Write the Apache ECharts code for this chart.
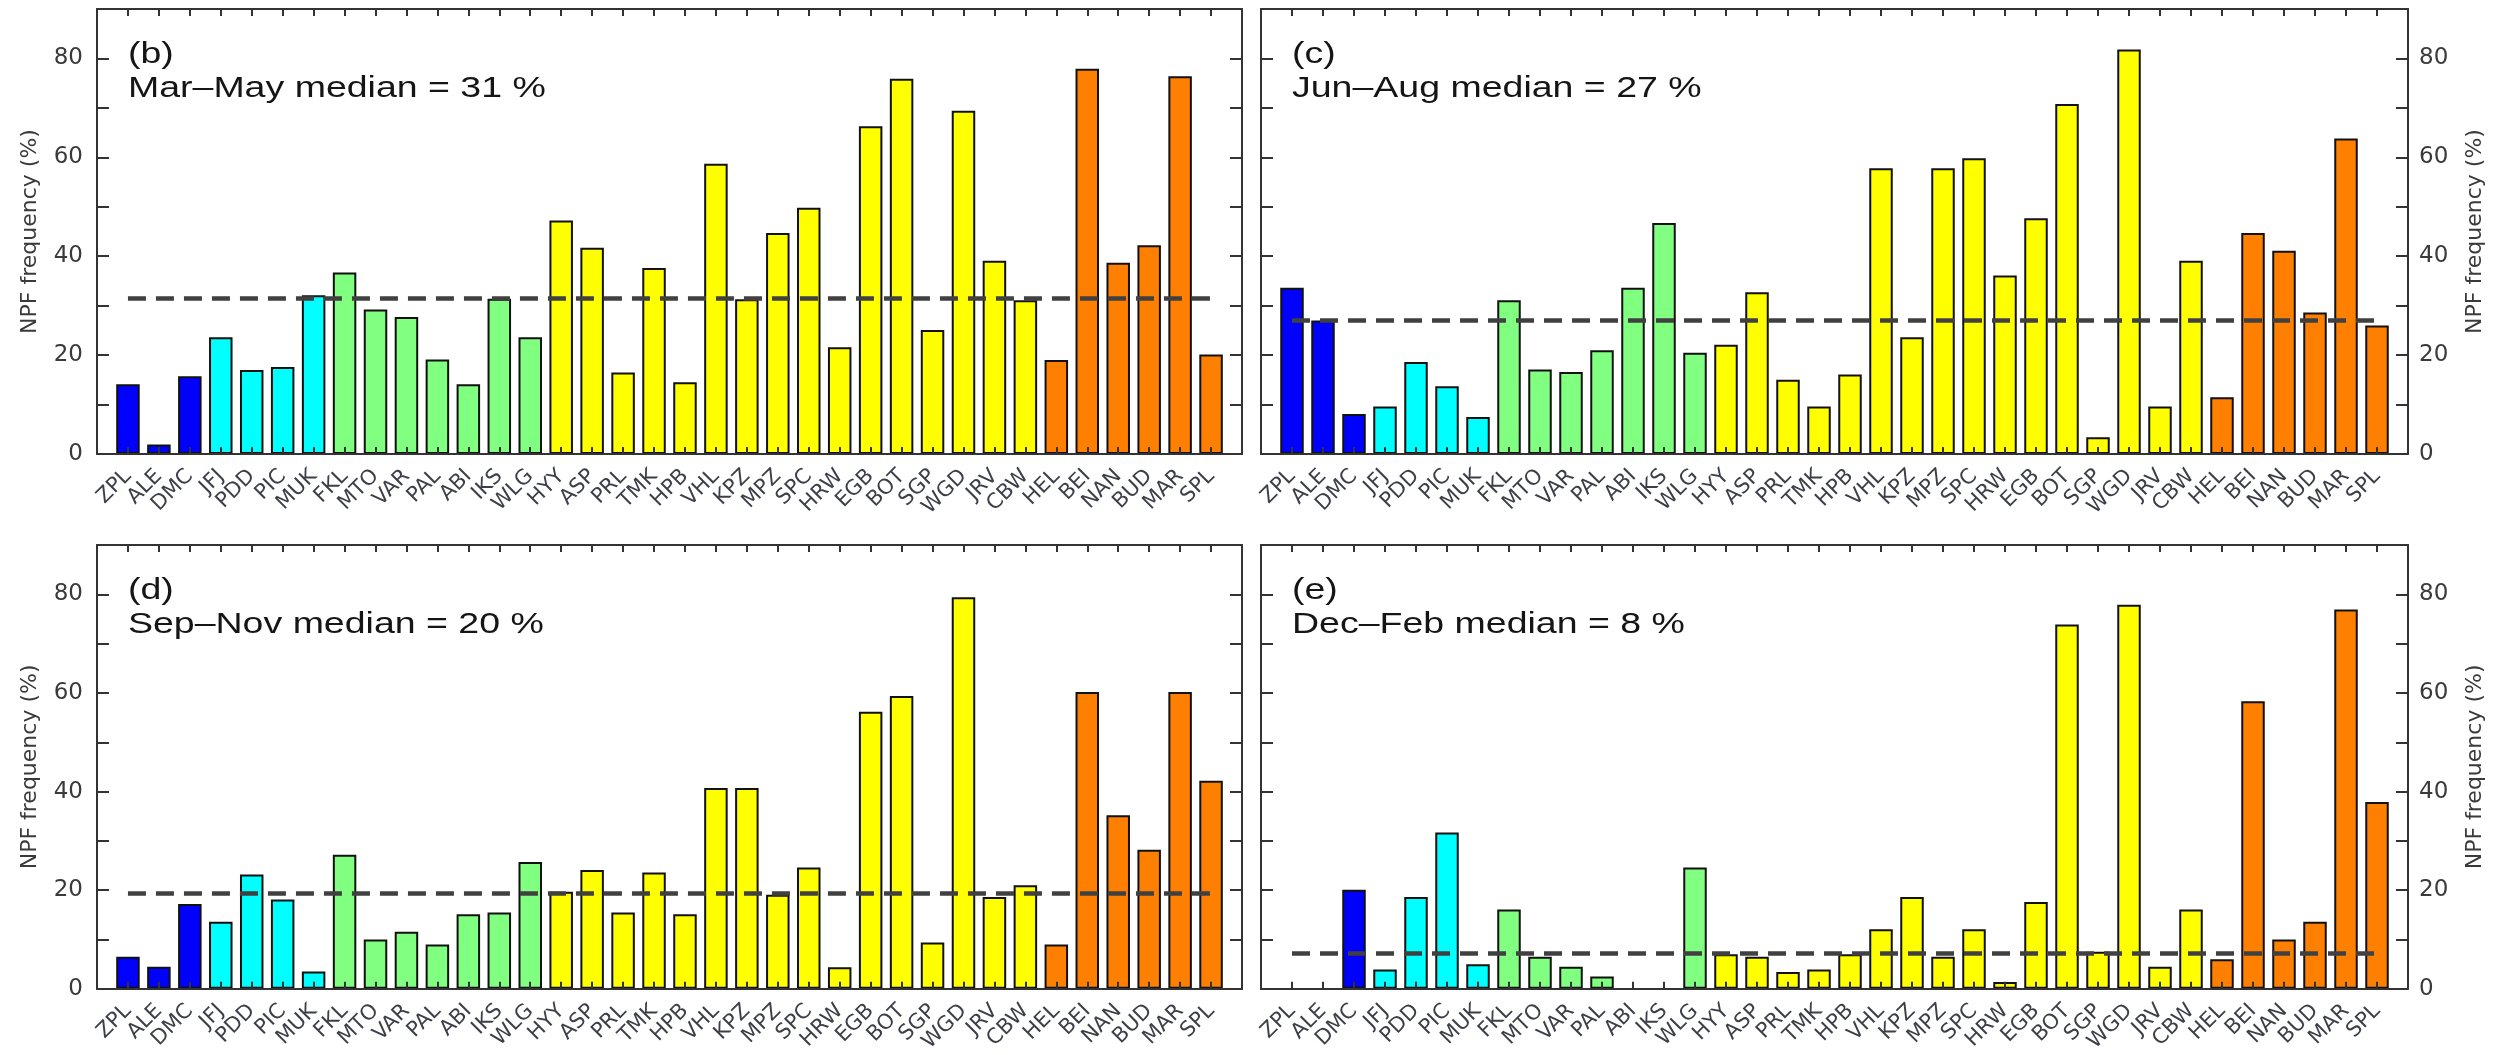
<!DOCTYPE html>
<html>
<head>
<meta charset="utf-8">
<script src="https://cdn.jsdelivr.net/npm/echarts@6/dist/echarts.min.js"></script>
<style>
html,body{margin:0;padding:0;background:#fff;}
#chart{width:2506px;height:1055px;}
</style>
</head>
<body>
<div id="chart"></div>
<script>
// ---------------- data ----------------
const sites = ['ZPL','ALE','DMC','JFJ','PDD','PIC','MUK','FKL','MTO','VAR','PAL','ABI','IKS','WLG',
  'HYY','ASP','PRL','TMK','HPB','VHL','KPZ','MPZ','SPC','HRW','EGB','BOT','SGP','WGD','JRV','CBW',
  'HEL','BEI','NAN','BUD','MAR','SPL'];
// site group (environment class) for each site
const siteGroup = [0,0,0,1,1,1,1,2,2,2,2,2,2,2,
  3,3,3,3,3,3,3,3,3,3,3,3,3,3,3,3,
  4,4,4,4,4,4];

const marMay = [14.1,1.9,15.7,23.6,17.0,17.6,32.1,36.7,29.2,27.7,19.1,14.1,31.4,23.6,
  47.2,41.7,16.5,37.6,14.5,58.7,31.3,44.7,49.8,21.6,66.3,75.9,25.1,69.4,39.1,31.1,
  19.0,77.9,38.7,42.2,76.4,20.1];
const junAug = [33.6,27.0,8.1,9.6,18.6,13.7,7.5,31.1,17.1,16.6,21.0,33.6,46.7,20.5,
  22.1,32.7,15.0,9.6,16.1,57.8,23.6,57.8,59.8,36.1,47.7,70.8,3.4,81.8,9.6,39.1,
  11.5,44.7,41.1,28.6,63.8,26.0];
const sepNov = [6.5,4.5,17.2,13.6,23.2,18.1,3.5,27.2,10.0,11.6,9.0,15.1,15.5,25.7,
  19.7,24.1,15.5,23.6,15.1,40.7,40.7,19.1,24.6,4.4,56.2,59.4,9.4,79.4,18.6,21.0,
  9.0,60.2,35.2,28.2,60.2,42.2];
const decFeb = [null,null,20.1,3.9,18.6,31.7,5.0,16.1,6.5,4.5,2.5,null,null,24.6,
  7.0,6.5,3.4,3.9,7.0,12.1,18.6,6.5,12.1,1.4,17.6,73.9,7.5,77.9,4.5,16.1,
  6.0,58.3,10.0,13.6,76.9,37.9];

const panelLetters = ['(b)','(c)','(d)','(e)'];
const seasonNames = ['Mar\u2013May','Jun\u2013Aug','Sep\u2013Nov','Dec\u2013Feb'];
const medianLabels = [31, 27, 20, 8];
const medianLines = [31.4, 27.0, 19.4, 7.3];
const yTickLabels = [0, 20, 40, 60, 80];
const yAxisTitle = 'NPF frequency (%)';

// ---------------- styles / layout ----------------
const seasons = [marMay, junAug, sepNov, decFeb];
const groupColors = ['#0000ff', '#00ffff', '#80ff80', '#ffff00', '#ff8000'];
const grids = [
  {left: 97, top: 9, width: 1145, height: 445},
  {left: 1261, top: 9, width: 1147, height: 445},
  {left: 97, top: 545, width: 1145, height: 445},
  {left: 1261, top: 545, width: 1147, height: 445}
];
const labelSide = ['left', 'right', 'left', 'right'];
const axisCats = [''].concat(sites, ['']);
const axisColor = '#333';
const labelColor = '#3a3a3a';
const FONT = '"DejaVu Sans", sans-serif';

const xAxes = [], yAxes = [], series = [], graphics = [];
grids.forEach((g, i) => {
  const tickInterval = (idx) => idx > 0 && idx < axisCats.length - 1;
  xAxes.push({
    type: 'category', gridIndex: i, data: axisCats, boundaryGap: false, position: 'bottom', z: 3,
    axisLine: {onZero: false, lineStyle: {color: axisColor, width: 2}},
    axisTick: {inside: true, length: 7, interval: tickInterval, lineStyle: {color: axisColor, width: 2}},
    axisLabel: {interval: 0, rotate: 45, margin: 19, fontFamily: FONT, fontSize: 21, color: '#3d3f48'},
    splitLine: {show: false}
  });
  xAxes.push({
    type: 'category', gridIndex: i, data: axisCats, boundaryGap: false, position: 'top', z: 3,
    axisLine: {onZero: false, lineStyle: {color: axisColor, width: 2}},
    axisTick: {inside: true, length: 7, interval: tickInterval, lineStyle: {color: axisColor, width: 2}},
    axisLabel: {show: false},
    splitLine: {show: false}
  });
  ['left', 'right'].forEach(pos => {
    const withLabels = pos === labelSide[i];
    yAxes.push({
      type: 'value', gridIndex: i, position: pos, min: 0, max: 90, interval: 10, z: 3,
      axisLine: {show: true, onZero: false, lineStyle: {color: axisColor, width: 2}},
      axisTick: {show: true, inside: true, length: 12, lineStyle: {color: axisColor, width: 2}},
      axisLabel: {
        show: withLabels, margin: pos === 'left' ? 14 : 11, fontFamily: FONT, fontSize: 23, color: labelColor,
        formatter: v => (yTickLabels.indexOf(v) >= 0 ? String(v) : '')
      },
      splitLine: {show: false},
      name: withLabels ? yAxisTitle : '',
      nameLocation: 'middle', nameRotate: 90, nameGap: 56,
      nameTextStyle: {fontFamily: FONT, fontSize: 22, color: labelColor}
    });
  });
  const m = medianLines[i];
  series.push({
    type: 'bar', xAxisIndex: 2 * i, yAxisIndex: 2 * i,
    barWidth: 23.5,
    data: [null].concat(seasons[i].map((v, k) => ({
      value: v,
      itemStyle: {color: groupColors[siteGroup[k]]}
    })), [null]),
    itemStyle: {borderColor: '#111', borderWidth: 2},
    markLine: {
      silent: true, symbol: ['none', 'none'], label: {show: false}, z: 5,
      lineStyle: {color: '#404040', width: 4.5, type: [18, 10]},
      data: [[{coord: [sites[0], m]}, {coord: [sites[sites.length - 1], m]}]]
    }
  });
  const x0 = g.left + g.width / 37;
  graphics.push({
    type: 'text', x: x0, y: g.top + 46, scaleX: 1.25,
    style: {text: panelLetters[i], fontFamily: '"Liberation Sans", Arial, sans-serif', fontSize: 30,
      fill: '#151515', verticalAlign: 'middle', align: 'left'}
  });
  graphics.push({
    type: 'text', x: x0, y: g.top + 80, scaleX: 1.25,
    style: {text: seasonNames[i] + ' median = ' + medianLabels[i] + ' %',
      fontFamily: '"Liberation Sans", Arial, sans-serif', fontSize: 30,
      fill: '#151515', verticalAlign: 'middle', align: 'left'}
  });
});

const chart = echarts.init(document.getElementById('chart'), null, {renderer: 'canvas'});
chart.setOption({
  animation: false,
  backgroundColor: '#ffffff',
  grid: grids.map(g => Object.assign({containLabel: false}, g)),
  xAxis: xAxes,
  yAxis: yAxes,
  series: series,
  graphic: graphics
});
</script>
</body>
</html>
